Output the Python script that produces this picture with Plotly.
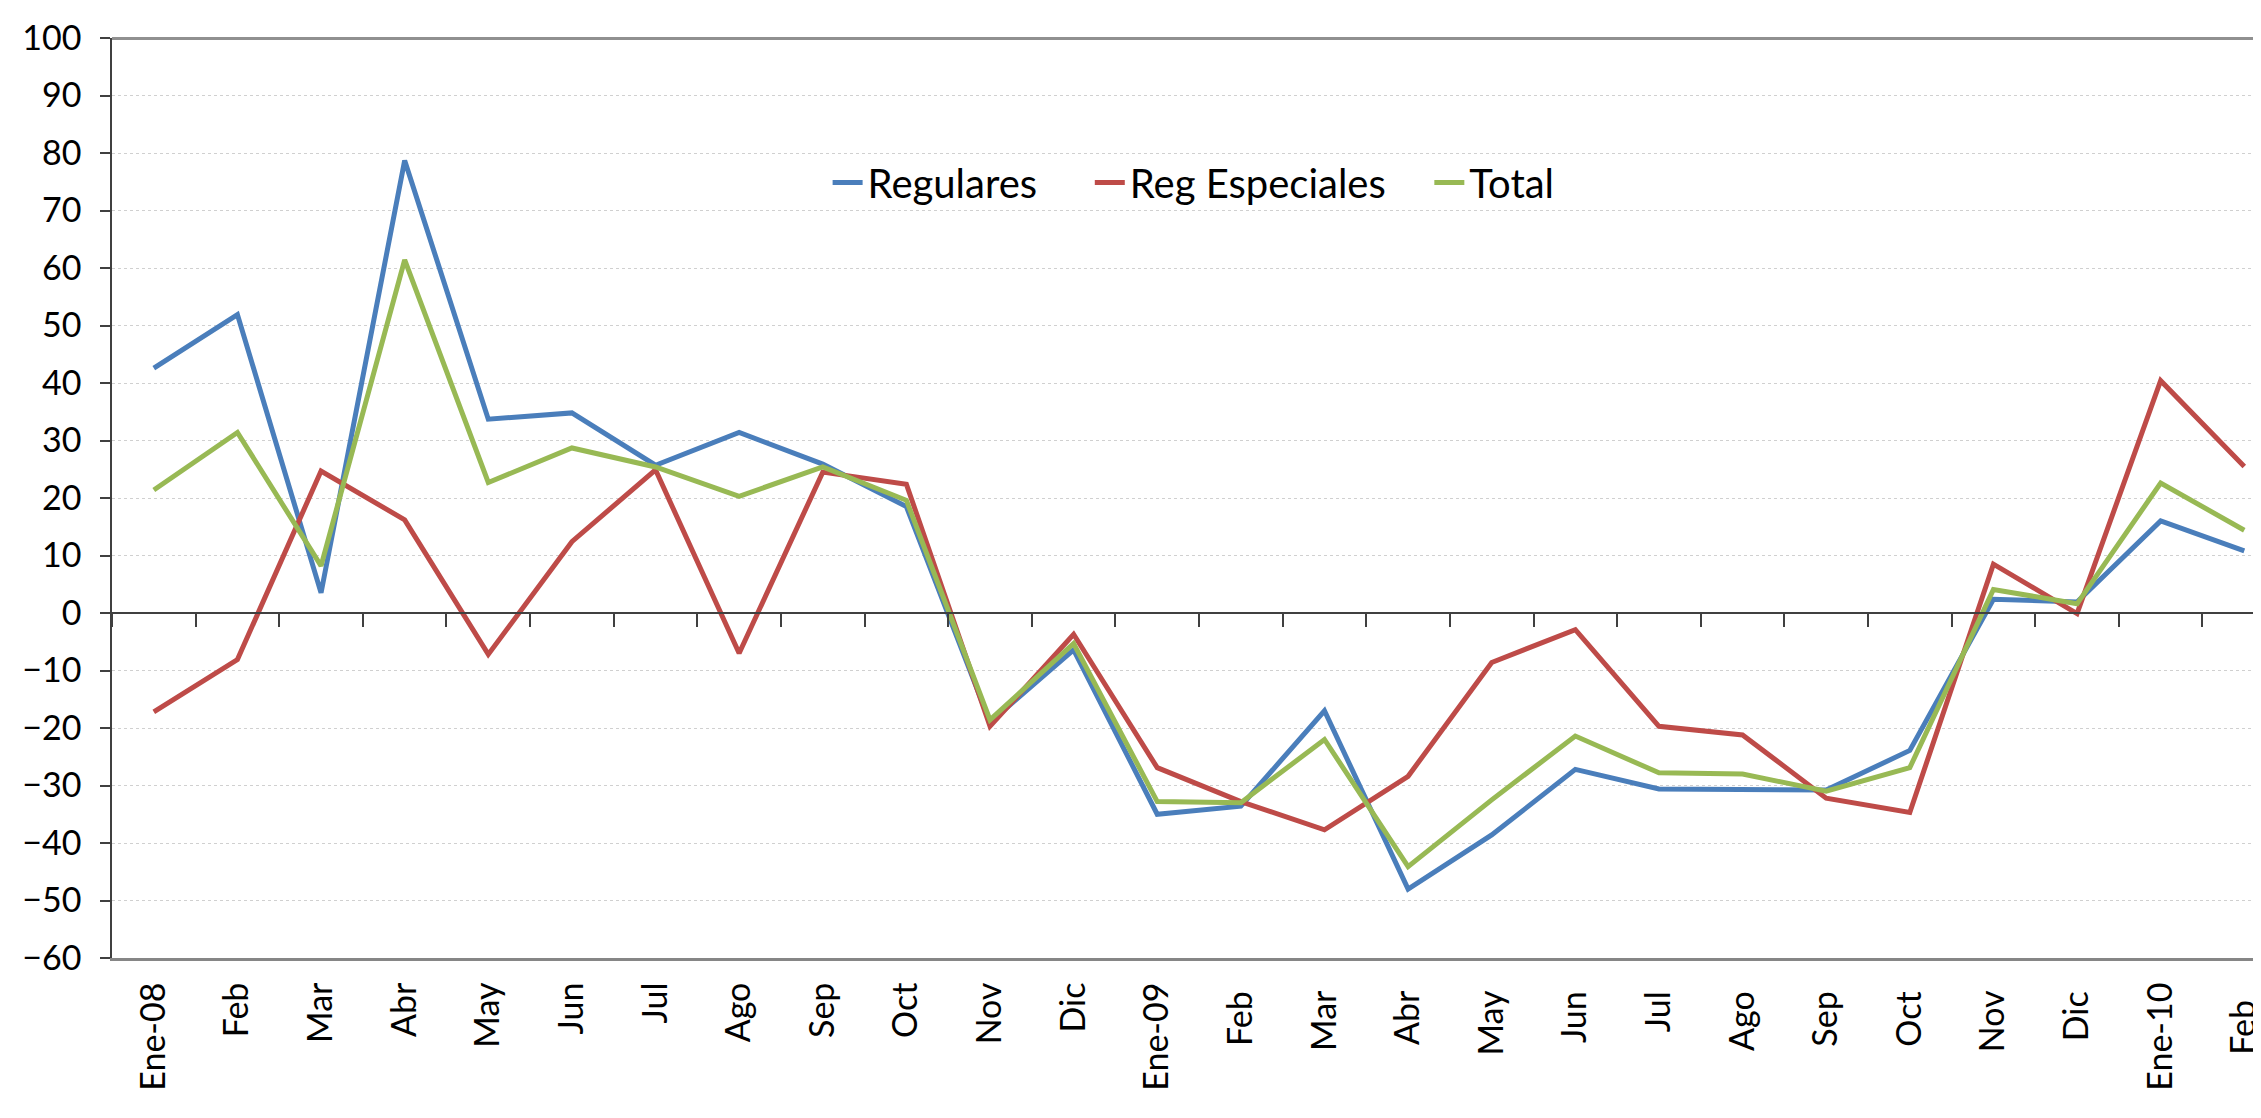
import plotly.graph_objects as go

categories = ["Ene-08", "Feb", "Mar", "Abr", "May", "Jun", "Jul", "Ago", "Sep", "Oct", "Nov", "Dic",
              "Ene-09", "Feb ", "Mar ", "Abr ", "May ", "Jun ", "Jul ", "Ago ", "Sep ", "Oct ", "Nov ", "Dic ",
              "Ene-10", "Feb  "]

regulares = [42.6, 51.9, 3.5, 78.7, 33.7, 34.8, 25.7, 31.4, 25.9, 18.5, -19.0, -6.4,
             -35.0, -33.6, -17.0, -48.0, -38.6, -27.2, -30.6, -30.6, -30.8, -23.9, 2.4, 1.9,
             16.0, 10.8]
reg_especiales = [-17.2, -8.1, 24.7, 16.2, -7.2, 12.4, 24.9, -7.0, 24.5, 22.4, -19.7, -3.7,
                  -26.9, -32.8, -37.7, -28.4, -8.6, -2.9, -19.7, -21.2, -32.2, -34.7, 8.5, -0.1,
                  40.4, 25.5]
total = [21.4, 31.4, 8.2, 61.4, 22.7, 28.7, 25.4, 20.3, 25.4, 19.6, -18.6, -5.3,
         -32.8, -33.0, -22.0, -44.1, -32.5, -21.4, -27.8, -28.0, -31.0, -26.9, 4.1, 1.6,
         22.6, 14.4]

# (name, values, colour, x axis, legend id)
series = [("Regulares", regulares, "#4A7EBB", "x", "legend"),
          ("Reg Especiales", reg_especiales, "#BE4B48", "x2", "legend2"),
          ("Total", total, "#98B954", "x3", "legend3")]

FONT = "Lato"
y_min, y_max = -60, 100
x_range = [-0.5, 25.2]

fig = go.Figure()
for name, vals, col, xa, lg in series:
    fig.add_trace(go.Scatter(x=categories, y=vals, name=name, mode="lines", xaxis=xa,
                             yaxis="y", legend=lg, line=dict(color=col, width=5)))

cat_common = dict(type="category", categoryorder="array", categoryarray=categories,
                  range=x_range, showgrid=False, zeroline=False)

legend_common = dict(orientation="h", yanchor="middle", xanchor="left", y=0.843,
                     bgcolor="rgba(0,0,0,0)", font=dict(size=40, family=FONT, color="black"))

fig.update_layout(
    width=2253, height=1110,
    margin=dict(l=104, r=0, t=30, b=160),
    paper_bgcolor="white", plot_bgcolor="white",
    font=dict(family=FONT, color="black"),
    showlegend=True,
    legend=dict(x=0.333, **legend_common),
    legend2=dict(x=0.455, **legend_common),
    legend3=dict(x=0.613, **legend_common),
    xaxis=dict(**cat_common, tickangle=-90, tickfont=dict(size=34, family=FONT),
               showline=True, linecolor="#868686", linewidth=3, ticks="",
               ticklabelstandoff=8),
    xaxis2=dict(**cat_common, overlaying="x", anchor="free",
                position=(0 - y_min) / (y_max - y_min),
                showticklabels=False, showline=True, linecolor="#404040",
                linewidth=1.5, ticks="outside", ticklen=13, tickwidth=1.5, tickcolor="#404040",
                tickson="boundaries"),
    xaxis3=dict(**cat_common, overlaying="x", anchor="free", position=1.0, side="top",
                showline=True, linecolor="#909090", linewidth=3,
                showticklabels=False, ticks=""),
    yaxis=dict(range=[y_min, y_max], dtick=10, tick0=0, tickfont=dict(size=34, family=FONT),
               showgrid=True, gridcolor="#D0D0D0", griddash="dot", gridwidth=1,
               showline=True, linecolor="#404040", linewidth=1.5,
               ticks="outside", ticklen=10, tickcolor="#404040", tickwidth=1.5,
               ticklabelstandoff=12, zeroline=False),
    shapes=[dict(type="rect", xref="paper", yref="paper", layer="above",
                 x0=(780 - 112) / 2149, x1=(1580 - 112) / 2149,
                 y0=(958 - 210) / 920, y1=(958 - 155) / 920,
                 fillcolor="white", line=dict(width=0))],
)

fig.write_html("out.html")
